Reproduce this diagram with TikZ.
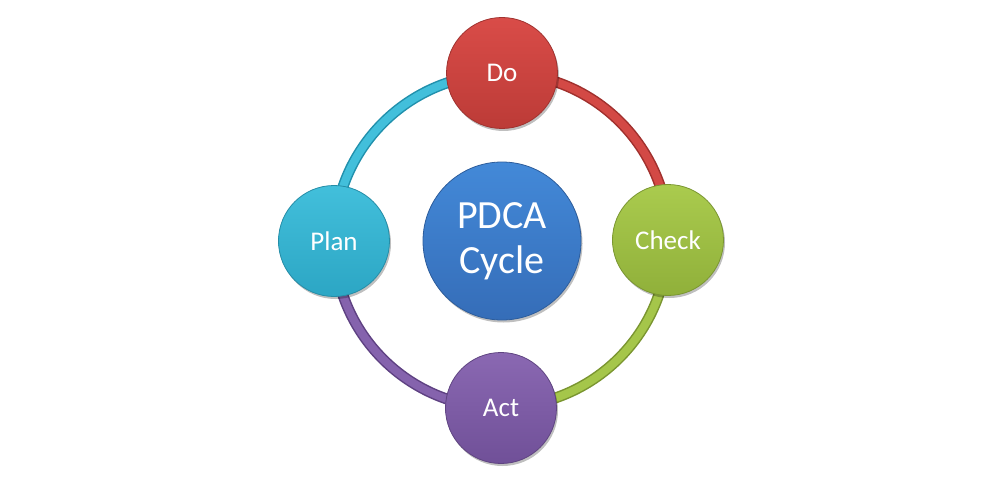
\documentclass[tikz,border=0pt]{standalone}
\usepackage{fontspec}
\setmainfont{Carlito}
\usetikzlibrary{backgrounds,shadows}
\definecolor{redT}{HTML}{D94C48}\definecolor{redB}{HTML}{BC3B37}\definecolor{redE}{HTML}{A0302D}
\definecolor{grnT}{HTML}{AACB4E}\definecolor{grnB}{HTML}{90B03A}\definecolor{grnE}{HTML}{7A9530}
\definecolor{purT}{HTML}{8A68B2}\definecolor{purB}{HTML}{705098}\definecolor{purE}{HTML}{5E4182}
\definecolor{cyaT}{HTML}{42BFDB}\definecolor{cyaB}{HTML}{2CA6C4}\definecolor{cyaE}{HTML}{2190AC}
\definecolor{bluT}{HTML}{4389D8}\definecolor{bluB}{HTML}{356DB8}\definecolor{bluE}{HTML}{2A5896}
\tikzset{
  x=1pt,y=1pt,
  ball/.style n args={3}{circle, minimum size=#1, inner sep=0pt, top color=#2, bottom color=#3,
      draw=#3!85!black, line width=0.8pt, text=white, align=center,
      drop shadow={shadow xshift=1.5pt, shadow yshift=-2.5pt, opacity=0.25, fill=black}},
  small/.style={font=\fontsize{27}{32}\selectfont},
  big/.style={font=\fontsize{40}{47}\selectfont},
  tubeout/.style={line width=11pt, draw=#1},
  tubein/.style={line width=8pt, draw=#1},
}
\begin{document}
\begin{tikzpicture}
\useasboundingbox (0,0) rectangle (988,483);
\node[ball={158pt}{bluT}{bluB}, big] (core) at (502,242) {PDCA\\[-2pt]Cycle};
\node[ball={111pt}{redT}{redB}, small] (do) at (502,410) {Do};
\node[ball={111pt}{grnT}{grnB}, small] (check) at (668,243) {Check};
\node[ball={111pt}{purT}{purB}, small] (act) at (501,75) {Act};
\node[ball={111pt}{cyaT}{cyaB}, small] (plan) at (334,242) {Plan};
\begin{scope}[on background layer]
  \draw[tubeout=cyaE] (plan.center) arc[start angle=180, end angle=90, radius=167];
  \draw[tubein=cyaT] (plan.center) arc[start angle=180, end angle=90, radius=167];
  \draw[tubeout=redE] (do.center) arc[start angle=90, end angle=0, radius=167];
  \draw[tubein=redT!80!redB] (do.center) arc[start angle=90, end angle=0, radius=167];
  \draw[tubeout=grnE] (check.center) arc[start angle=0, end angle=-90, radius=167];
  \draw[tubein=grnT!80!grnB] (check.center) arc[start angle=0, end angle=-90, radius=167];
  \draw[tubeout=purE] (act.center) arc[start angle=270, end angle=180, radius=167];
  \draw[tubein=purT!80!purB] (act.center) arc[start angle=270, end angle=180, radius=167];
\end{scope}
\end{tikzpicture}
\end{document}
